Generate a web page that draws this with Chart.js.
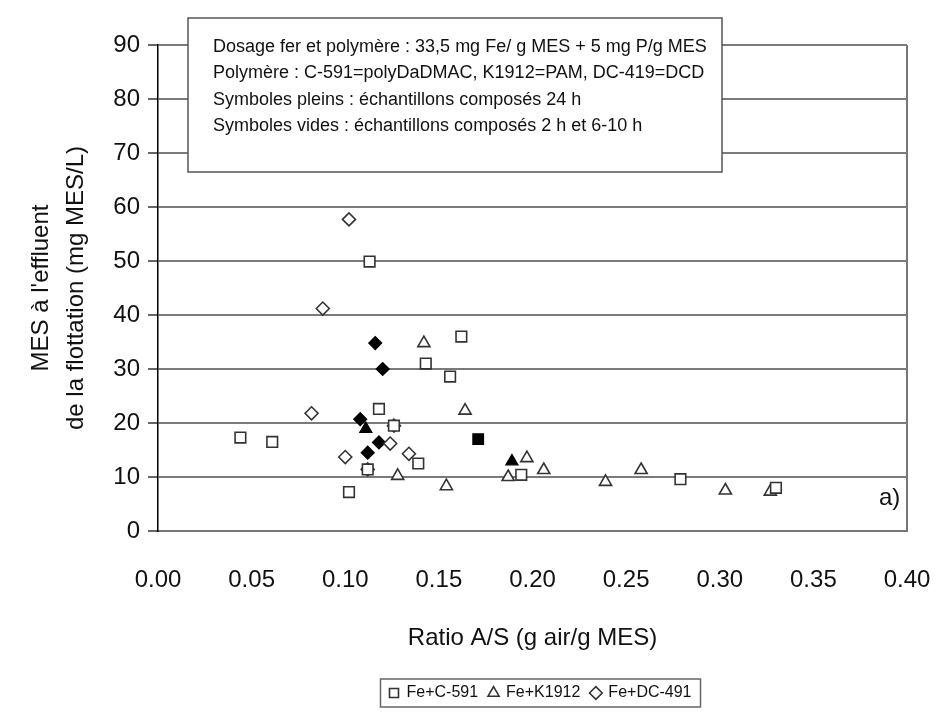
<!DOCTYPE html>
<html>
<head>
<meta charset="utf-8">
<script src="https://cdn.jsdelivr.net/npm/chart.js@4.4.1/dist/chart.umd.min.js"></script>
<style>
  html, body { margin: 0; padding: 0; background: #fff; }
  #wrap { width: 940px; height: 721px; }
</style>
</head>
<body>
<div id="wrap"><canvas id="chart" width="940" height="721"></canvas></div>
<script>
// --- data (ratio A/S, MES mg/L) ---
const c591OpenX   = [0.044, 0.061, 0.102, 0.113, 0.118, 0.126, 0.112, 0.139, 0.143, 0.156, 0.162, 0.194, 0.279, 0.330];
const c591OpenY   = [17.3, 16.5, 7.2, 49.9, 22.6, 19.5, 11.4, 12.5, 31.0, 28.6, 36.0, 10.4, 9.6, 8.0];
const c591FullX   = [0.171];
const c591FullY   = [17.0];

const k1912OpenX  = [0.142, 0.164, 0.128, 0.154, 0.197, 0.187, 0.206, 0.239, 0.258, 0.303, 0.327];
const k1912OpenY  = [34.8, 22.3, 10.2, 8.3, 13.5, 10.0, 11.3, 9.1, 11.3, 7.5, 7.3];
const k1912FullX  = [0.111, 0.189];
const k1912FullY  = [18.9, 12.9];

const dc491OpenX  = [0.102, 0.088, 0.082, 0.100, 0.124, 0.134, 0.112, 0.126];
const dc491OpenY  = [57.7, 41.2, 21.8, 13.7, 16.2, 14.3, 11.4, 19.5];
const dc491FullX  = [0.116, 0.120, 0.108, 0.118, 0.112];
const dc491FullY  = [34.8, 30.0, 20.7, 16.4, 14.5];

const seriesLabels = ['Fe+C-591', 'Fe+K1912', 'Fe+DC-491'];
const noteLines = [
  'Dosage fer et polymère : 33,5 mg Fe/ g MES + 5 mg P/g MES',
  'Polymère : C-591=polyDaDMAC, K1912=PAM, DC-419=DCD',
  'Symboles pleins : échantillons composés 24 h',
  'Symboles vides : échantillons composés 2 h et 6-10 h'
];

const FONT = "'Liberation Sans', Arial, sans-serif";
const pts = (xs, ys) => xs.map((x, i) => ({ x, y: ys[i] }));

function openSet(label, xs, ys, style, r) {
  return { label, data: pts(xs, ys), pointStyle: style, pointRadius: r, pointHoverRadius: r,
    backgroundColor: '#fff', borderColor: '#333', borderWidth: 1.6, showLine: false };
}
function fullSet(xs, ys, style, r) {
  return { label: '_full', data: pts(xs, ys), pointStyle: style, pointRadius: r, pointHoverRadius: r,
    backgroundColor: '#000', borderColor: '#000', borderWidth: 1.2, showLine: false };
}

// note box, "a)" and the frame round the legend
const extras = {
  id: 'extras',
  afterLayout(chart) {
    // legend sits right of centre in the original
    chart.legend.left += 87;
    chart.legend.right += 87;
  },
  afterDraw(chart) {
    const ctx = chart.ctx;
    ctx.save();
    ctx.fillStyle = '#fff';
    ctx.strokeStyle = '#555';
    ctx.lineWidth = 1.5;
    ctx.fillRect(188, 18, 534, 154);
    ctx.strokeRect(188, 18, 534, 154);
    ctx.fillStyle = '#111';
    ctx.font = '18px ' + FONT;
    ctx.textBaseline = 'middle';
    noteLines.forEach((t, i) => ctx.fillText(t, 213, 47 + i * 26.5));

    ctx.font = '24px ' + FONT;
    ctx.fillText('a)', 879, 498);

    const boxes = chart.legend.legendHitBoxes;
    if (boxes && boxes.length) {
      const l = Math.min(...boxes.map(b => b.left));
      const r = Math.max(...boxes.map(b => b.left + b.width));
      const t = boxes[0].top, h = boxes[0].height;
      ctx.strokeStyle = '#666';
      ctx.lineWidth = 1.5;
      ctx.strokeRect(l - 9, t - 6, r - l + 18, h + 12);
    }
    ctx.restore();
  }
};

new Chart(document.getElementById('chart'), {
  type: 'scatter',
  data: {
    datasets: [
      openSet(seriesLabels[0], c591OpenX, c591OpenY, 'rect', 7.5),
      openSet(seriesLabels[1], k1912OpenX, k1912OpenY, 'triangle', 7),
      openSet(seriesLabels[2], dc491OpenX, dc491OpenY, 'rectRot', 6.5),
      fullSet(c591FullX, c591FullY, 'rect', 7.5),
      fullSet(k1912FullX, k1912FullY, 'triangle', 7),
      fullSet(dc491FullX, dc491FullY, 'rectRot', 6.5)
    ]
  },
  options: {
    responsive: false,
    animation: false,
    devicePixelRatio: 1,
    layout: { padding: { top: 45, right: 33, left: 0, bottom: 10 } },
    plugins: {
      tooltip: { enabled: false },
      legend: {
        position: 'bottom',
        labels: {
          filter: item => !item.text.startsWith('_'),
          usePointStyle: true,
          boxWidth: 9, boxHeight: 9,
          padding: 11,
          color: '#111',
          font: { family: FONT, size: 16 }
        }
      }
    },
    scales: {
      x: {
        type: 'linear', min: 0, max: 0.4,
        afterFit: s => { s.height = 143; s.paddingRight = 0; s.paddingLeft = 0; },
        ticks: { stepSize: 0.05, color: '#111', padding: 35, font: { family: FONT, size: 24 },
          callback: v => v.toFixed(2) },
        grid: {
          drawTicks: false,
          color: c => (Math.abs(c.tick.value - 0.4) < 1e-9 ? '#777' : 'rgba(0,0,0,0)'),
          lineWidth: 2
        },
        border: { color: '#777', width: 2 },
        title: { display: true, text: 'Ratio A/S (g air/g MES)', color: '#111',
          font: { family: FONT, size: 24 }, padding: { top: 4, bottom: 21 } }
      },
      y: {
        min: 0, max: 90,
        afterFit: s => { s.width = 158; },
        ticks: { stepSize: 10, color: '#111', padding: 8, font: { family: FONT, size: 24 } },
        grid: { color: '#7a7a7a', lineWidth: 2, tickLength: 10, tickColor: '#000', tickWidth: 1.2 },
        border: { color: '#000', width: 1.5 },
        title: { display: true, text: ["MES à l'effluent", 'de la flottation (mg MES/L)'],
          color: '#111', font: { family: FONT, size: 24, lineHeight: 1.45 },
          padding: { top: 24, bottom: 0 } }
      }
    }
  },
  plugins: [extras]
});
</script>
</body>
</html>
